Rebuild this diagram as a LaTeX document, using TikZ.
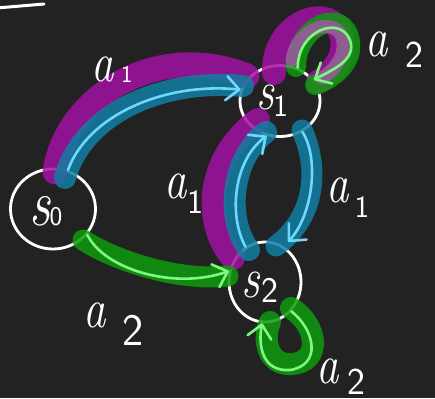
\documentclass[tikz,border=0pt]{standalone}
\usepackage{graphicx}
\usetikzlibrary{arrows.meta,shapes.geometric,calc}
\definecolor{bg}{RGB}{34,34,34}
\definecolor{hlpurple}{RGB}{161,17,161}
\definecolor{hlteal}{RGB}{17,126,163}
\definecolor{hlgreen}{RGB}{15,156,13}
\definecolor{lblue}{RGB}{110,215,255}
\definecolor{lgreen}{RGB}{125,250,125}
\definecolor{mauve}{RGB}{155,90,158}
\newcommand\mylbl[6]{\makebox[0pt][l]{\fontsize{#2}{#2}\selectfont\scalebox{0.8}[1]{\itshape #1}\kern#3pt\raisebox{-#5pt}{\fontsize{#6}{#6}\selectfont\sffamily #4}}}
\newcommand\mystate[7]{\makebox[0pt][l]{\hspace*{#1pt}\raisebox{#2pt}{\mylbl{s}{#3}{#4}{#5}{#6}{#7}}}}
\begin{document}
\begin{tikzpicture}[x=1pt,y=-1pt,
  state/.style={ellipse, draw=white, line width=2.8pt, inner sep=0pt, text height=0pt, text depth=0pt, text=white},
  lbl/.style={inner sep=0pt, text height=0pt, text depth=0pt, text=white},
  hl/.style={line width=22pt, line cap=round, opacity=0.85},
  thinline/.style={line width=2.6pt, line cap=round, line join=round},
  barbtip/.style={-{Straight Barb[length=13pt,width=24pt,round]}}
]
\fill[bg] (0,0) rectangle (435,398);
\useasboundingbox (0,0) rectangle (435,398);

\draw[white, line width=3pt, line cap=round] (-3,8) -- (44,4);

% states
\node[state, minimum width=85pt, minimum height=80pt] (s0) at (53,209) {\mystate{-24}{-16}{66}{-0.5}{0}{0}{27}};
\node[state, minimum width=80pt, minimum height=71pt] (s1) at (280,101) {\mystate{-24}{-9}{56}{-0.5}{1}{7}{31}};
\node[state, minimum width=72pt, minimum height=80pt] (s2) at (265,282) {\mystate{-24}{-15}{58}{2}{2}{5}{36}};

% purple highlights
\draw[hl, hlpurple, line width=25pt] ($(s0)+(2,-37)$) .. controls (66,96) and (158,40) .. ($(s1)+(-33,-25)$);
\draw[hl, hlpurple, line width=24pt] ($(s2)+(-32,-24)$) .. controls (204,225) and (204,160) .. ($(s1)+(-22,19)$);
\draw[hl, hlpurple, line width=24pt] ($(s1)+(-6,-28)$) .. controls (272,20) and (335,0) .. (342,38) .. controls (346,58) and (330,75) .. ($(s1)+(38,-19)$);

% teal highlights
\draw[hl, hlteal] ($(s0)+(12,-31)$) .. controls (82,115) and (160,78) .. ($(s1)+(-37,-15)$);
\draw[hl, hlteal] ($(s2)+(-16,-32)$) .. controls (226,220) and (230,160) .. ($(s1)+(-14,31)$);
\draw[hl, hlteal, line width=21pt] ($(s1)+(22,29)$) .. controls (318,165) and (318,215) .. ($(s2)+(11,-36)$);

% green highlights
\draw[hl, hlgreen, line width=21pt] ($(s0)+(30,31)$) .. controls (110,258) and (175,282) .. ($(s2)+(-37,-6)$);
\draw[hl, hlgreen] ($(s2)+(26,26)$) .. controls (318,325) and (322,362) .. (292,364) .. controls (268,366) and (262,340) .. ($(s2)+(5,40)$);
\draw[hl, hlgreen, line width=20pt] ($(s1)+(16,-34)$) .. controls (296,25) and (345,5) .. (350,42) .. controls (353,65) and (330,80) .. ($(s1)+(35,-16)$);
\draw[mauve, line width=13pt, line cap=round, opacity=0.9] ($(s1)+(12,-41)$) .. controls (297,25) and (340,15) .. (343,42) .. controls (345,58) and (332,72) .. ($(s1)+(42,-23)$);

% connectors
\draw[thinline, lblue, barbtip] (s0.69) .. controls (88,115) and (165,82) .. (s1.164);
\draw[thinline, lblue, barbtip, shorten >=6pt] (s1.-54) .. controls (320,160) and (312,216) .. (s2.62);
\draw[thinline, lblue, barbtip] (s2.119) .. controls (228,215) and (234,160) .. (s1.249);
\draw[thinline, lgreen, barbtip] (s0.-37) .. controls (105,270) and (175,290) .. (s2.163);
\draw[thinline, lgreen, barbtip] (s2.-48) .. controls (315,330) and (322,365) .. (290,370) .. controls (262,372) and (258,345) .. (s2.266);
\draw[thinline, lgreen, barbtip] (s1.62) .. controls (298,30) and (340,15) .. (350,40) .. controls (357,60) and (332,70) .. (s1.32);

% labels
\node[lbl] (la1) at (91.7,82) {\mylbl{a}{56}{7}{1}{1}{24}};
\node[lbl] (la2) at (365.7,57) {\mylbl{a}{56}{17.6}{2}{11}{38}};
\node[lbl] (lb1) at (164.7,198) {\mylbl{a}{56}{0}{1}{15}{34}};
\node[lbl] (lc1) at (326.7,202) {\mylbl{a}{56}{5.4}{1}{15}{31}};
\node[lbl] (ld2) at (83.7,327) {\mylbl{a}{56}{15.9}{2}{18}{45}};
\node[lbl] (le2) at (316.7,383) {\mylbl{a}{56}{8.6}{2}{11}{38}};
\end{tikzpicture}
\end{document}
